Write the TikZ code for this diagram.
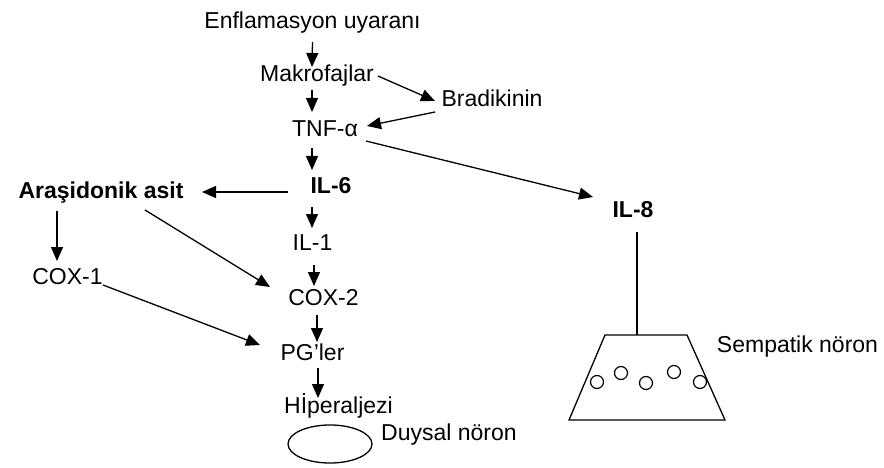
\documentclass[tikz,border=0pt]{standalone}
\usepackage{fontspec}
\setmainfont{Liberation Sans}
\usetikzlibrary{arrows.meta,calc,shapes.geometric}

\tikzset{
  lbl/.style={inner sep=0pt, text height=16pt, text depth=5pt,
              font=\fontsize{23}{27}\selectfont},
  blbl/.style={lbl, font=\fontsize{23}{27}\selectfont\bfseries},
  arr/.style={line width=1.3pt, -{Triangle[length=14pt,width=12pt]}},
  plain/.style={line width=1.3pt},
  vesicle/.style={draw, line width=1.2pt, circle, inner sep=0pt, minimum size=13pt},
}

\begin{document}
\begin{tikzpicture}[x=1pt,y=-1pt]
\useasboundingbox (0,0) rectangle (884,468);

% labels
\node[lbl]  (enf)   at (312.5,22.8) {Enflamasyon uyaranı};
\node[lbl]  (makro) at (317,76)     {Makrofajlar};
\node[lbl]  (brad)  at (492,101.5)  {Bradikinin};
\node[lbl]  (tnf)   at (325,131)    {TNF-α};
\node[blbl] (il6)   at (331,188)    {IL-6};
\node[blbl] (aras)  at (101,192.5)  {Araşidonik asit};
\node[blbl] (il8)   at (633,212.5)  {IL-8};
\node[lbl]  (il1)   at (312.5,244.5){IL-1};
\node[lbl]  (cox1)  at (67.5,278.5) {COX-1};
\node[lbl]  (cox2)  at (323.5,299.5){COX-2};
\node[lbl]  (pg)    at (312.5,354.5){PG’ler};
\node[lbl]  (hip)   at (338.5,408)  {Hİperaljezi};
\node[lbl]  (duy)   at (449,434.5)  {Duysal nöron};
\node[lbl]  (symp)  at (797.5,346.5){Sempatik nöron};

% sensory neuron
\node[draw, line width=1.3pt, ellipse, minimum width=84pt, minimum height=38pt] (cell) at (330,444) {};

% sympathetic neuron body
\coordinate (ntl) at (605,335);
\coordinate (ntr) at (687,335);
\coordinate (nbr) at (725,420);
\coordinate (nbl) at (569,420);
\coordinate (ntop) at (637,335);
\draw[plain] (ntl) -- (ntr) -- (nbr) -- (nbl) -- cycle;
\node[vesicle] (v1) at (597,382) {};
\node[vesicle] (v2) at (621,373) {};
\node[vesicle] (v3) at (646,383) {};
\node[vesicle] (v4) at (674,372) {};
\node[vesicle] (v5) at (700,382) {};

% main cascade
\draw[arr] ($(enf)+(0,19.2)$)    -- ($(makro)+(-5,-9)$);
\draw[arr] ($(makro)+(61,0)$)    -- ($(brad)+(-57,-0.5)$);
\draw[arr] ($(makro)+(-5,14)$)   -- ($(tnf)+(-13,-19)$);
\draw[arr] ($(brad)+(-57,10.5)$) -- ($(tnf)+(42,-5)$);
\draw[arr] ($(tnf)+(41,10)$)     -- ($(il8)+(-40,-15.5)$);
\draw[arr] ($(tnf)+(-13,17)$)    -- ($(il6)+(-19,-18)$);
\draw[arr] ($(il6)+(-43,4)$)     -- ($(aras)+(101,-0.5)$);
\draw[arr] ($(aras)+(-44,18.5)$) -- ($(cox1)+(-10.5,-17.5)$);
\draw[arr] ($(aras)+(44,17.5)$)  -- ($(cox2)+(-53.5,-12.5)$);
\draw[arr] ($(il6)+(-19,19)$)    -- ($(il1)+(-0.5,-16.5)$);
\draw[arr] ($(il1)+(1.5,20.5)$)  -- ($(cox2)+(-9.5,-13.5)$);
\draw[arr] ($(cox1)+(35.5,6.5)$) -- ($(pg)+(-52.5,-9.5)$);
\draw[arr] ($(cox2)+(-6.5,15.5)$)-- ($(pg)+(4.5,-12.5)$);
\draw[arr] ($(pg)+(5.5,13.5)$)   -- ($(hip)+(-20.5,-10)$);

% IL-8 to sympathetic neuron
\draw[plain] ($(il8)+(4,19.5)$) -- (ntop);
\end{tikzpicture}
\end{document}
